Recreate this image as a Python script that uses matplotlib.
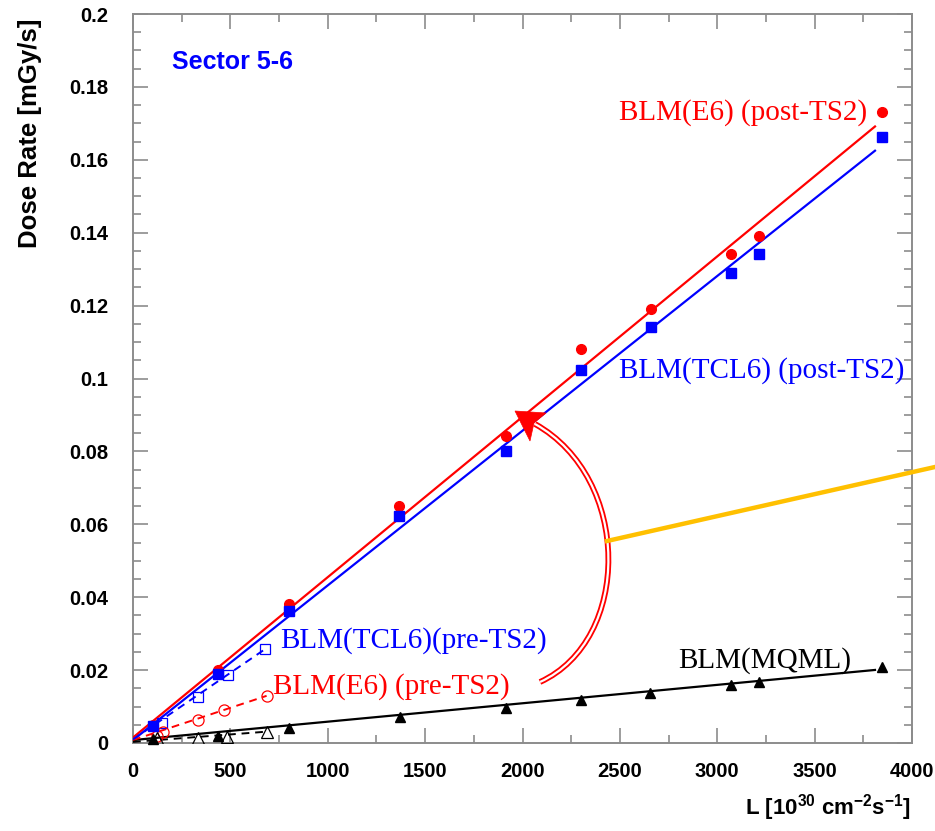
import matplotlib
matplotlib.use("Agg")
import matplotlib.pyplot as plt
from matplotlib.path import Path
from matplotlib.patches import PathPatch, Polygon
from matplotlib.lines import Line2D
from matplotlib.ticker import MultipleLocator, FuncFormatter
import numpy as np

plt.rcParams['mathtext.fontset'] = 'custom'
plt.rcParams['mathtext.rm'] = 'Liberation Sans:bold'
plt.rcParams['mathtext.it'] = 'Liberation Sans:bold'
plt.rcParams['mathtext.bf'] = 'Liberation Sans:bold'

# ---- data (post-TS2) ----
L_post = [101, 438, 800, 1366, 1915, 2300, 2658, 3073, 3212, 3848]
e6_post = [0.0050, 0.0200, 0.0381, 0.0650, 0.0842, 0.1080, 0.1191, 0.1342, 0.1391, 0.1730]
tcl6_post = [0.00475, 0.0189, 0.0361, 0.0623, 0.0801, 0.1023, 0.1140, 0.1290, 0.1342, 0.1662]
L_mqml_post = [101, 438, 803, 1370, 1915, 2300, 2655, 3073, 3212, 3848]
mqml_post = [0.0010, 0.0020, 0.0042, 0.0072, 0.0096, 0.0118, 0.0138, 0.0159, 0.0168, 0.0209]

# ---- data (pre-TS2) ----
L_tcl6_pre = [150, 335, 486, 678]
tcl6_pre = [0.0055, 0.0127, 0.0187, 0.0258]
L_e6_pre = [121, 156, 335, 469, 686]
e6_pre = [0.0019, 0.0031, 0.0063, 0.0091, 0.0129]
L_mqml_pre = [121, 335, 481, 686]
mqml_pre = [0.0013, 0.0013, 0.0017, 0.0031]

# ---- linear fits (slope, intercept, L range) ----
fit_e6_post = (4.40e-5, 0.0015)
fit_tcl6_post = (4.244e-5, 0.0008)
fit_mqml_post = (5.05e-6, 0.0008)
fit_range_post = (0, 3810)
fit_e6_pre = (1.77e-5, 0.0008)
fit_tcl6_pre = (3.65e-5, 0.0010)
fit_mqml_pre = (4.1e-6, 0.0003)
fit_range_pre = (0, 686)

RED = '#ff0000'
BLUE = '#0000ff'

fig = plt.figure(figsize=(9.35, 8.31), dpi=100)
ax = fig.add_axes([133/935, 88/831, 779/935, 729/831])
ax.set_xlim(0, 4000)
ax.set_ylim(0, 0.2)

def fitline(fit, rng, **kw):
    xs = np.array(rng, dtype=float)
    ax.plot(xs, fit[0]*xs + fit[1], **kw)

fitline(fit_e6_post, fit_range_post, color=RED, lw=1.6, zorder=3)
fitline(fit_tcl6_post, fit_range_post, color=BLUE, lw=1.6, zorder=3)
fitline(fit_mqml_post, fit_range_post, color='black', lw=1.6, zorder=3)
fitline(fit_e6_pre, fit_range_pre, color=RED, lw=1.4, ls=(0, (4, 3)), zorder=3)
fitline(fit_tcl6_pre, fit_range_pre, color=BLUE, lw=1.4, ls=(0, (4, 3)), zorder=3)
fitline(fit_mqml_pre, fit_range_pre, color='black', lw=1.4, ls=(0, (4, 3)), zorder=3)

ax.plot(L_post, e6_post, 'o', color=RED, ms=7, mec=RED, zorder=5, clip_on=False)
ax.plot(L_post, tcl6_post, 's', color=BLUE, ms=7, mec=BLUE, zorder=5, clip_on=False)
ax.plot(L_mqml_post, mqml_post, '^', color='black', ms=7, zorder=5, clip_on=False)
ax.plot(L_tcl6_pre, tcl6_pre, 's', mfc='none', mec=BLUE, ms=7.5, mew=0.9, zorder=4)
ax.plot(L_e6_pre, e6_pre, 'o', mfc='none', mec=RED, ms=8, mew=0.9, zorder=4)
ax.plot(L_mqml_pre, mqml_pre, '^', mfc='none', mec='black', ms=8, mew=0.9, zorder=4)

# ---- axes style ----
for s in ax.spines.values():
    s.set_color('#8c8c8c')
    s.set_linewidth(1.4)
ax.xaxis.set_major_locator(MultipleLocator(500))
ax.xaxis.set_minor_locator(MultipleLocator(250))
ax.yaxis.set_major_locator(MultipleLocator(0.02))
ax.yaxis.set_minor_locator(MultipleLocator(0.005))
ax.yaxis.set_major_formatter(FuncFormatter(lambda v, p: '%g' % round(v, 4)))
ax.tick_params(which='both', direction='in', top=True, right=True, color='#8c8c8c', width=1.2)
ax.tick_params(which='major', length=11)
ax.tick_params(which='minor', length=6)
ax.tick_params(axis='y', which='major', pad=18)
ax.tick_params(axis='x', which='major', pad=14)
for lab in ax.get_xticklabels() + ax.get_yticklabels():
    lab.set_fontfamily('Liberation Sans')
    lab.set_fontweight('bold')
    lab.set_fontsize(14.5)

fig.text(30/935, 1 - 18/831, 'Dose Rate [mGy/s]', rotation=90, ha='center', va='top',
         fontfamily='Liberation Sans', fontweight='bold', fontsize=18.5)
fig.text(911/935, 1 - 808/831, 'L [10$^{30}$ cm$^{-2}$s$^{-1}$]', ha='right', va='center',
         fontfamily='Liberation Sans', fontweight='bold', fontsize=16)

ax.text(200, 0.1868, 'Sector 5-6', color=BLUE, fontfamily='Liberation Sans',
        fontweight='bold', fontsize=18, ha='left', va='center')

serif = dict(fontfamily='Liberation Serif', fontsize=21, ha='left', va='center')
ax.text(2495, 0.1730, 'BLM(E6) (post-TS2)', color=RED, **serif)
ax.text(2495, 0.1023, 'BLM(TCL6) (post-TS2)', color=BLUE, **serif)
ax.text(755, 0.0280, 'BLM(TCL6)(pre-TS2)', color=BLUE, **serif)
ax.text(719, 0.0156, 'BLM(E6) (pre-TS2)', color=RED, **serif)
ax.text(2799, 0.0225, 'BLM(MQML)', color='black', **serif)

# ---- curved double-line arrow (axes fraction coords from pixels) ----
def af(px, py):
    return ((px - 133) / 779, (743 - py) / 729)

verts = [af(540, 682), af(632, 640), af(632, 478), af(535, 424)]
codes = [Path.MOVETO, Path.CURVE4, Path.CURVE4, Path.CURVE4]
path = Path(verts, codes)
ax.add_patch(PathPatch(path, fc='none', ec=RED, lw=4.2, transform=ax.transAxes,
                       zorder=6, capstyle='butt'))
ax.add_patch(PathPatch(path, fc='none', ec='white', lw=1.6, transform=ax.transAxes,
                       zorder=7, capstyle='butt'))
ax.add_patch(Polygon([af(515, 411), af(546, 413), af(534, 423), af(530, 441)], closed=True,
                     fc=RED, ec=RED, lw=0.5, transform=ax.transAxes, zorder=8))

# ---- yellow pointer line ----
fig.add_artist(Line2D([607/935, 1.0], [1 - 541/831, 1 - 467/831], color='#ffc000',
                      lw=3.2, transform=fig.transFigure, zorder=9))

fig.savefig('out.png', dpi=100)
